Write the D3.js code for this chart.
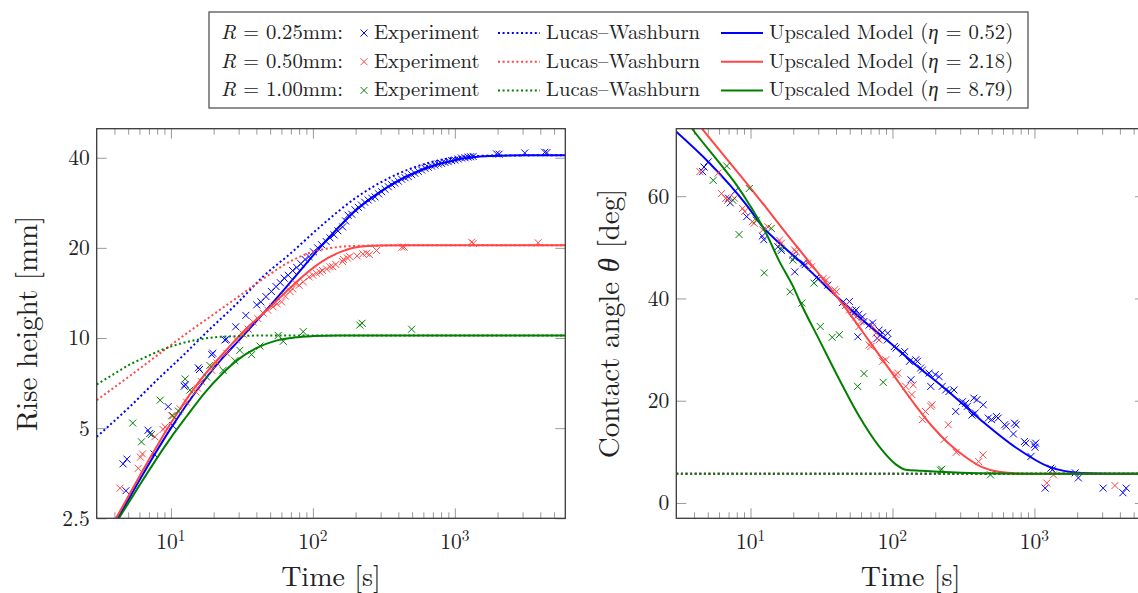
<!DOCTYPE html>
<html><head><meta charset="utf-8">
<script src="https://cdn.jsdelivr.net/npm/d3@7"></script>
<style>body{margin:0;background:#fff}</style>
</head><body>
<svg id="c" width="1138" height="593" xmlns="http://www.w3.org/2000/svg"></svg>
<script>
// ---------------- DATA ----------------
const radii = ["0.25", "0.50", "1.00"];
const etas = ["0.52", "2.18", "8.79"];
const xMajorTicks = [10, 100, 1000];
const xMajorLabels = ["1", "2", "3"]; // exponents of 10
const xMinorTicks = [4,5,6,7,8,9,20,30,40,50,60,70,80,90,200,300,400,500,600,700,800,900,2000,3000,4000,5000];
const riseTicks = [2.5, 5, 10, 20, 40];
const riseTickLabels = ["2.5", "5", "10", "20", "40"];
const angleTicks = [0, 20, 40, 60];
const angleTickLabels = ["0", "20", "40", "60"];

// Rise height [mm] vs time [s]
const expRise025 = [[4.6,3.8],[4.9,3.94],[4.82,3.09],[6.9,4.92],[7.1,4.8],[7.6,4.1],[9.57,5.9],[10.3,5.1],[12.4,6.9],[12.6,7.0],[15.6,7.95],[15.9,7.85],[19.4,8.8],[19.7,8.9],[24,9.85],[24.5,9.9],[28.6,10.9],[33.7,11.9],[40.2,12.9],[43,13.2],[46.7,13.75],[51,14.3],[55,14.85],[59,15.3],[62.8,15.85],[67,16.2],[72,16.8],[77,17.2],[82.4,17.7],[88,18.3],[94,18.7],[101,19.4],[108,20.0],[115,20.5],[124,21.0],[132,21.6],[141,22.1],[150,22.8],[162,23.5],[170,24.6],[177,25.7],[188,25.9],[198,26.8],[209,27.3],[220,27.8],[232,28.4],[245,28.9],[260,29.3],[274,29.6],[290,30.3],[305,30.8],[322,31.4],[340,32.0],[359,32.5],[378,32.9],[400,33.4],[422,33.9],[446,34.3],[470,34.6],[497,35.1],[523,35.5],[553,36.0],[583,36.4],[616,36.9],[649,37.2],[686,37.5],[723,37.8],[764,38.1],[805,38.3],[851,38.6],[898,38.8],[949,39.1],[1000,39.3],[1057,39.6],[1114,39.9],[1180,40.0],[1242,40.2],[1290,40.3],[1346,40.4],[1968,41.2],[2050,41.1],[3110,41.5],[4300,41.7],[4450,41.6]];
const expRise050 = [[4.38,3.15],[5.89,3.67],[6.1,4.0],[6.3,4.1],[7.7,4.68],[8.8,4.95],[9.1,5.05],[10.1,5.5],[11.6,5.8],[12.9,6.1],[15,6.6],[15.4,6.8],[16.4,7.15],[19.4,7.8],[21.1,8.25],[24.7,8.9],[29,9.85],[32.3,10.3],[35,10.7],[38,11.3],[41,11.6],[44.7,12.1],[48,12.4],[52.5,12.7],[56,13.0],[60.2,13.2],[64,13.8],[69,14.3],[72,14.6],[75.9,15.2],[80,15.0],[85.5,15.4],[94,16.0],[100,16.2],[106,16.45],[112,16.6],[117,16.8],[125,17.0],[132,17.3],[138,17.3],[145,17.6],[162,18.0],[164,18.3],[175,18.5],[182,18.7],[205,18.8],[225,19.1],[239,19.2],[250,19.0],[281,19.6],[424,20.1],[440,20.1],[1312,20.9],[1350,20.7],[3860,20.8]];
const expRise100 = [[5.38,5.2],[6.2,4.5],[7.3,4.76],[8.4,6.2],[10.3,5.5],[11.3,5.7],[12.6,7.3],[13.6,6.7],[17.9,7.4],[18.8,8.1],[23.3,7.8],[28.2,8.4],[30.6,9.1],[37,8.8],[42.4,9.4],[57,10.2],[61.8,9.75],[85.5,10.5],[214,11.05],[222,11.2],[496,10.7]];

const lwRise025 = [[3,4.68],[5.14,5.9],[8,7.25],[12.2,8.75],[18,10.5],[29,13.0],[45,16.1],[69,19.1],[118,24.0],[203,29.5],[348,34.3],[599,38.0],[1028,40.1],[2000,40.7],[6000,40.75]];
const lwRise050 = [[3,6.2],[5,7.4],[8,8.75],[13.6,10.55],[20,12.0],[29,13.6],[45,15.8],[69,18.0],[100,19.4],[140,20.05],[200,20.3],[400,20.4],[6000,20.4]];
const lwRise100 = [[3,7.0],[4,7.6],[5,8.1],[6.5,8.6],[8.5,9.1],[11,9.5],[15,9.85],[20,10.05],[30,10.15],[50,10.2],[6000,10.2]];

const modelRise025 = [[4.0,2.38],[4.24,2.5],[6,3.35],[10,5.0],[16,6.9],[22,8.35],[30.6,9.9],[49.8,12.8],[69,15.3],[118,20.6],[203,26.8],[348,32.3],[599,36.6],[1028,39.4],[1766,40.5],[3000,40.75],[6000,40.75]];
const modelRise050 = [[3.9,2.4],[4.1,2.5],[6,3.45],[10,5.2],[16,7.2],[25,9.2],[35,10.9],[46.7,12.3],[69,14.7],[95,16.8],[118,18.1],[162,19.5],[203,20.1],[300,20.35],[500,20.4],[6000,20.4]];
const modelRise100 = [[4.1,2.41],[4.3,2.5],[6,3.22],[8,3.98],[10,4.65],[13,5.5],[17,6.5],[23,7.6],[30,8.5],[40,9.25],[55,9.8],[75,10.05],[100,10.15],[150,10.2],[6000,10.2]];

// Contact angle [deg] vs time [s]
const expAngle025 = [[4.6,64.8],[4.7,65.7],[5.03,66.7],[7.0,59.6],[7.2,58.7],[7.8,61.0],[9.4,56.0],[12.1,52.2],[12.4,51.5],[15.6,50.1],[16.5,49.4],[19.8,48.5],[20.3,48.0],[20.5,45.2],[23.6,46.9],[24.2,46.6],[29.2,44.1],[30,43.8],[35,42.6],[44.5,39.2],[47,38.7],[49.7,39.4],[52,37.6],[53.5,37.1],[55.3,37.75],[57,32.5],[58,36.9],[61.5,36.4],[63,35.5],[68.5,34.8],[72.5,35.2],[78,32.2],[80.5,33.8],[85,33.3],[92,31.9],[92.5,33.2],[103,30.6],[106,30.3],[118.5,29.3],[122,29.6],[131.7,27.7],[135,24.1],[146,28.0],[150,27.7],[158,26.4],[162.5,26.0],[181,25.4],[186,22.8],[200,25.1],[213,24.7],[224,22.8],[237,22.1],[250,21.8],[271,22.1],[279,17.9],[311,19.8],[328,19.5],[337,18.9],[363,17.2],[374,20.5],[383,17.6],[394,20.2],[436,19.2],[473,16.6],[498,16.3],[540,16.9],[555,16.6],[617,15.3],[633,15.0],[711,13.5],[723,15.6],[742,15.3],[849,12.0],[871,11.7],[945,9.1],[995,11.4],[1010,10.9],[1020,11.7],[1190,2.9],[1305,6.8],[1340,6.5],[1938,5.9],[2040,4.9],[3050,2.9],[4200,2.0],[4430,2.9]];
const expAngle050 = [[4.4,64.8],[5.9,64.5],[6.25,60.5],[6.7,59.6],[6.9,59.2],[7.7,59.6],[8.8,57.6],[9.1,57.0],[10.3,55.0],[10.6,54.7],[12.2,53.4],[13.3,54.0],[16,51.4],[16.5,50.8],[20.4,49.5],[21,49.1],[25.5,46.9],[26.9,46.2],[32.5,43.9],[34.2,43.6],[39.1,41.7],[40.2,41.3],[47.1,38.7],[49.7,37.75],[55.3,36.4],[58,34.5],[60,35.5],[68.5,30.9],[70.5,30.6],[72.5,34.5],[76.4,33.2],[80.5,31.9],[85,27.7],[89.8,28.0],[106,25.1],[109,25.4],[124,22.8],[137,21.2],[140,23.1],[162.5,16.3],[170.5,17.9],[186,18.9],[190,19.2],[231,12.4],[247,15.3],[281,9.9],[405,8.1],[434,9.4],[1222,3.9],[1361,5.5],[3690,3.4]];
const expAngle100 = [[5.46,63.1],[6.8,65.9],[7.5,59.2],[8.3,52.5],[9.8,61.5],[11,55.3],[12.5,45.0],[14,53.7],[16.4,49.8],[19,41.3],[19.9,47.5],[23,39.1],[28,43.0],[31,34.5],[37.6,32.4],[42.2,32.9],[56.8,22.8],[63,25.3],[86,23.6],[218,6.4],[222,6.6],[490,5.5]];

const lwAngle025 = [[3,5.7],[6000,5.7]];
const lwAngle050 = [[3,5.7],[6000,5.7]];
const lwAngle100 = [[3,5.7],[6000,5.7]];

const modelAngle025 = [[3,72.6],[5.17,66.4],[7.14,62.2],[9.35,58.3],[12.2,54.0],[16,50.8],[21,47.9],[27.4,44.9],[36,41.7],[47.1,38.7],[65,35.2],[89.8,32.0],[146,27.0],[250,21.7],[428,16.0],[734,10.9],[1259,7.1],[2155,5.85],[3500,5.7],[6000,5.7]];
const modelAngle050 = [[4.2,74.4],[4.64,72.9],[10,61.6],[20,51.0],[36,42.2],[50,37.0],[70.5,31.2],[100,25.3],[146,19.0],[190,15.0],[250,11.6],[327,9.0],[428,7.0],[558,6.1],[800,5.75],[1200,5.7],[6000,5.7]];
const modelAngle100 = [[3.6,74.4],[3.95,72.9],[6.08,66.4],[7.96,62.2],[10,58.0],[12.9,52.7],[16,47.2],[19.9,42.4],[22.1,39.6],[30.5,31.9],[42.3,24.1],[58.4,16.9],[80.5,11.05],[106,7.5],[124,6.5],[160,6.3],[213,6.1],[400,5.8],[1000,5.7],[6000,5.7]];

// ---------------- STYLE ----------------
const FONT = '"Latin Modern Roman","CMU Serif","Liberation Serif","Times New Roman",serif';
const GREEK = '"Liberation Serif","Times New Roman",serif';
const COL = ["#0000ff", "#ff4545", "#008000"];
const svg = d3.select("#c");

function cross(sel, s) {
  sel.attr("d", `M${-s},${-s}L${s},${s}M${-s},${s}L${s},${-s}`);
}

function panel(opt) {
  const g = svg.append("g");
  const x = d3.scaleLog().domain([3, 6000]).range([opt.left, opt.left + 468.6]);
  const y = opt.y;
  const top = y.range()[1], bottom = y.range()[0];
  const right = opt.left + 468.6;
  const cid = "clip" + opt.id;
  svg.append("defs").append("clipPath").attr("id", cid)
    .append("rect").attr("x", opt.left).attr("y", top).attr("width", right - opt.left).attr("height", bottom - top);

  const tickCol = "#9a9a9a";
  const ax = [
    g.append("g").attr("transform", `translate(0,${bottom})`).call(d3.axisBottom(x).tickValues(xMajorTicks).tickSize(-10).tickFormat("")),
    g.append("g").attr("transform", `translate(0,${bottom})`).call(d3.axisBottom(x).tickValues(xMinorTicks).tickSize(-6).tickFormat("")),
    g.append("g").attr("transform", `translate(0,${top})`).call(d3.axisTop(x).tickValues(xMajorTicks).tickSize(-10).tickFormat("")),
    g.append("g").attr("transform", `translate(0,${top})`).call(d3.axisTop(x).tickValues(xMinorTicks).tickSize(-6).tickFormat("")),
    g.append("g").attr("transform", `translate(${opt.left},0)`).call(d3.axisLeft(y).tickValues(opt.yTicks).tickSize(-10).tickPadding(7).tickFormat((d,i)=>opt.yLabels[i])),
    g.append("g").attr("transform", `translate(${right},0)`).call(d3.axisRight(y).tickValues(opt.yTicks).tickSize(-10).tickFormat(""))
  ];
  ax.forEach(a => {
    a.select(".domain").remove();
    a.selectAll(".tick line").attr("stroke", tickCol).attr("stroke-width", 1);
    a.selectAll("text").attr("font-family", FONT).attr("font-size", 21.5).attr("fill", "#222");
  });

  xMajorTicks.forEach((t, i) => {
    const tx = g.append("text").attr("x", x(t)).attr("y", bottom + 30.5)
      .attr("text-anchor", "middle").attr("font-family", FONT).attr("font-size", 21.5).attr("fill", "#222");
    tx.append("tspan").text("10");
    tx.append("tspan").attr("dy", -8).attr("font-size", 15.5).text(xMajorLabels[i]);
  });

  const pg = g.append("g").attr("clip-path", `url(#${cid})`);
  const line = d3.line().x(d => x(d[0])).y(d => y(d[1])).curve(d3.curveMonotoneX);
  opt.series.forEach((s, i) => {
    pg.append("g").selectAll("path").data(s.exp).join("path")
      .attr("transform", d => `translate(${x(d[0])},${y(d[1])})`)
      .call(cross, 3.5).attr("stroke", COL[i]).attr("stroke-width", 1).attr("fill", "none");
    pg.append("path").datum(s.lw).attr("d", line).attr("fill", "none")
      .attr("stroke", COL[i]).attr("stroke-width", 2).attr("stroke-dasharray", "2,2.6");
    pg.append("path").datum(s.model).attr("d", line).attr("fill", "none")
      .attr("stroke", COL[i]).attr("stroke-width", 2);
  });

  g.append("rect").attr("x", opt.left).attr("y", top).attr("width", right - opt.left).attr("height", bottom - top)
    .attr("fill", "none").attr("stroke", "#3a3a3a").attr("stroke-width", 1.3);

  g.append("text").attr("x", (opt.left + right) / 2).attr("y", 586).attr("text-anchor", "middle")
    .attr("font-family", FONT).attr("font-size", 28).attr("fill", "#222").text("Time [s]");
  const yl = g.append("text").attr("transform", `translate(${opt.ylx},${(top + bottom) / 2}) rotate(-90)`)
    .attr("text-anchor", "middle").attr("font-family", FONT).attr("font-size", 29).attr("fill", "#222");
  opt.ylabel(yl);
}

panel({
  id: "L", left: 96.7,
  y: d3.scaleLog().base(2).domain([2.5, 50]).range([518.3, 128.7]),
  yTicks: riseTicks, yLabels: riseTickLabels, ylx: 37,
  ylabel: t => t.text("Rise height [mm]"),
  series: [
    {exp: expRise025, lw: lwRise025, model: modelRise025},
    {exp: expRise050, lw: lwRise050, model: modelRise050},
    {exp: expRise100, lw: lwRise100, model: modelRise100}
  ]
});
panel({
  id: "R", left: 676.3,
  y: d3.scaleLinear().domain([-3, 73.2]).range([518.3, 128.7]),
  yTicks: angleTicks, yLabels: angleTickLabels, ylx: 619,
  ylabel: t => { t.append("tspan").text("Contact angle "); t.append("tspan").attr("font-family", GREEK).attr("font-style", "italic").text("θ"); t.append("tspan").text(" [deg]"); },
  series: [
    {exp: expAngle025, lw: lwAngle025, model: modelAngle025},
    {exp: expAngle050, lw: lwAngle050, model: modelAngle050},
    {exp: expAngle100, lw: lwAngle100, model: modelAngle100}
  ]
});

// ---------------- LEGEND ----------------
const LFS = 20.7;
const lg = svg.append("g");
lg.append("rect").attr("x", 209).attr("y", 12).attr("width", 819).attr("height", 96)
  .attr("fill", "#fff").attr("stroke", "#555").attr("stroke-width", 1.3);
radii.forEach((r, i) => {
  const cy = 32 + i * 28.7;
  const base = cy + 7;
  const t1 = lg.append("text").attr("x", 221).attr("y", base).attr("font-family", FONT).attr("font-size", LFS).attr("fill", "#222");
  t1.append("tspan").attr("font-style", "italic").text("R");
  t1.append("tspan").text(" = " + r + "mm:");
  lg.append("path").attr("transform", `translate(364,${cy + 1})`).call(cross, 3.5)
    .attr("stroke", COL[i]).attr("stroke-width", 1).attr("fill", "none");
  lg.append("text").attr("x", 374).attr("y", base).attr("font-family", FONT).attr("font-size", LFS).attr("fill", "#222").text("Experiment");
  lg.append("line").attr("x1", 498).attr("x2", 540).attr("y1", cy + 1).attr("y2", cy + 1)
    .attr("stroke", COL[i]).attr("stroke-width", 2).attr("stroke-dasharray", "2,2.6");
  lg.append("text").attr("x", 546).attr("y", base).attr("font-family", FONT).attr("font-size", LFS).attr("fill", "#222").text("Lucas–Washburn");
  lg.append("line").attr("x1", 721).attr("x2", 763).attr("y1", cy + 1).attr("y2", cy + 1)
    .attr("stroke", COL[i]).attr("stroke-width", 2);
  const t3 = lg.append("text").attr("x", 769).attr("y", base).attr("font-family", FONT).attr("font-size", LFS).attr("fill", "#222");
  t3.append("tspan").text("Upscaled Model (");
  t3.append("tspan").attr("font-family", GREEK).attr("font-style", "italic").text("η");
  t3.append("tspan").text(" = " + etas[i] + ")");
});
</script>
</body></html>
